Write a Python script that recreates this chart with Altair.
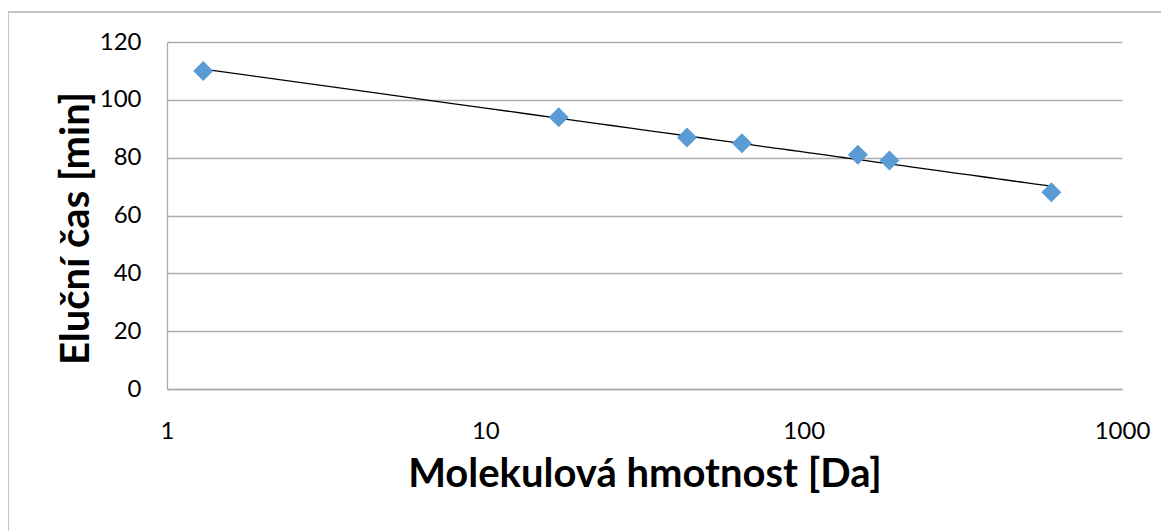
import altair as alt
import pandas as pd

# Data
mass_da = [1.3, 17, 43, 64, 148, 186, 600]
elution_min = [110, 94, 87, 85, 81, 79, 68]

x_ticks = [1, 10, 100, 1000]
y_ticks = [0, 20, 40, 60, 80, 100, 120]

x_title = "Molekulová hmotnost [Da]"
y_title = "Eluční čas [min]"

df = pd.DataFrame({"x": mass_da, "y": elution_min})

FONT = "Lato"
GRID = "#ADADAD"
W, H = 955, 347

x_enc = alt.X(
    "x:Q",
    scale=alt.Scale(type="log", domain=[1, 1000], nice=False),
    axis=alt.Axis(
        values=x_ticks,
        format="d",
        title=x_title,
        grid=False,
        ticks=False,
        domainColor=GRID,
        domainWidth=1.3,
        labelFont=FONT,
        labelFontSize=24,
        labelColor="#000000",
        labelBaseline="middle",
        labelPadding=42,
        labelFlush=False,
        titleFont=FONT,
        titleFontSize=40,
        titleFontWeight="bold",
        titleColor="#000000",
        titleBaseline="alphabetic",
        titleY=97,
    ),
)

y_enc = alt.Y(
    "y:Q",
    scale=alt.Scale(domain=[0, 120], nice=False),
    axis=alt.Axis(
        values=y_ticks,
        title=y_title,
        grid=True,
        gridColor=GRID,
        gridWidth=1.3,
        ticks=False,
        domainColor=GRID,
        domainWidth=1.3,
        labelFont=FONT,
        labelFontSize=24,
        labelColor="#000000",
        labelPadding=26,
        labelFlush=False,
        titleFont=FONT,
        titleFontSize=40,
        titleFontWeight="bold",
        titleColor="#000000",
        titleAngle=-90,
        titleAlign="center",
        titleBaseline="alphabetic",
        titleX=-79,
        titleY=186,
    ),
)

frame = alt.Chart(pd.DataFrame({"a": [0]})).mark_rect(
    fillOpacity=0, stroke="#B0B0B0", strokeWidth=1.4
).encode(
    x=alt.value(-159),
    x2=alt.value(1300),
    y=alt.value(-30),
    y2=alt.value(700),
)

trend = alt.Chart(df).transform_regression(
    "x", "y", method="log"
).mark_line(color="#000000", strokeWidth=1.3).encode(x=x_enc, y=y_enc)

points = alt.Chart(df).mark_point(
    shape="diamond", filled=True, size=400, color="#5B9BD5", opacity=1
).encode(x=x_enc, y=y_enc)

chart = alt.layer(frame, trend, points).properties(
    width=W,
    height=H,
    autosize=alt.AutoSizeParams(type="none"),
    padding={"left": 159, "top": 34, "right": 39, "bottom": 142},
    background="white",
).configure_view(stroke=None)

chart.save("out.html", embed_options={"renderer": "svg", "actions": False})
